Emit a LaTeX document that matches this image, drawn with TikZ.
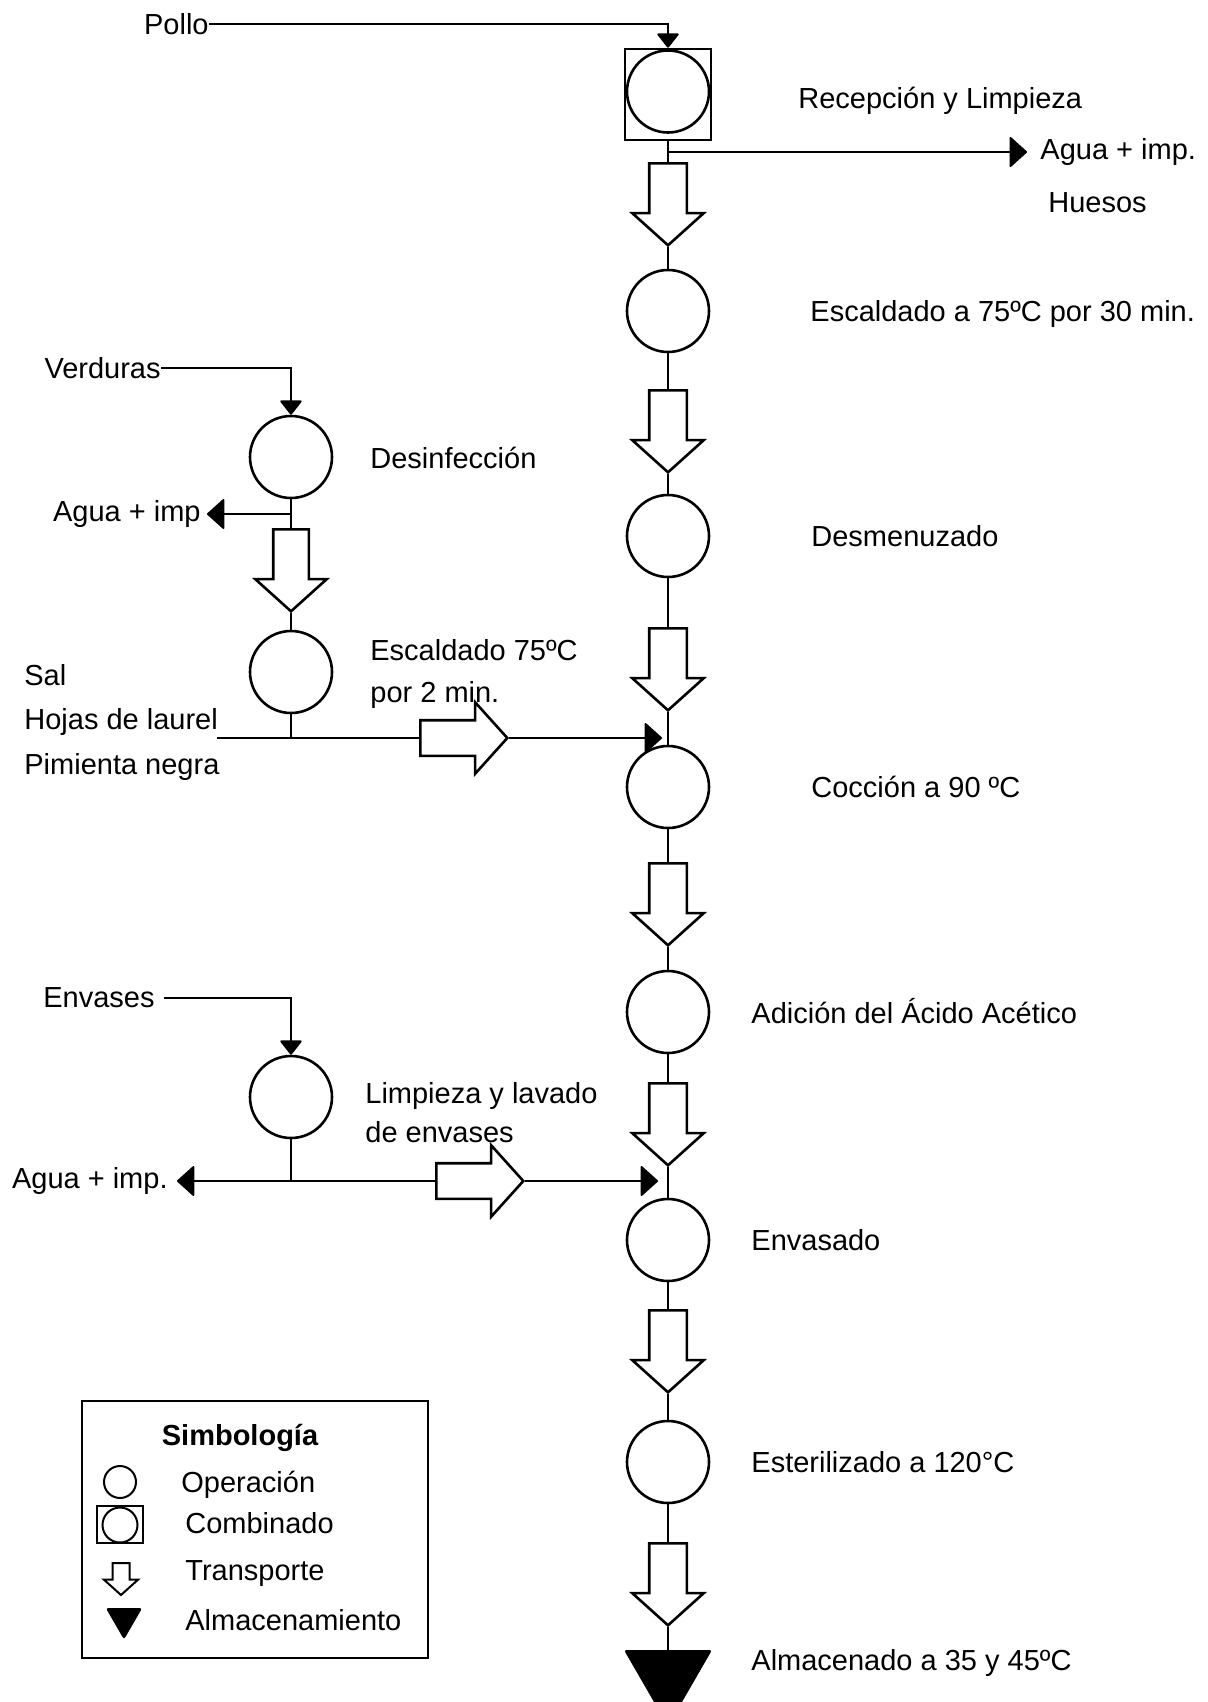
\documentclass[tikz,border=0pt]{standalone}
\usepackage{fontspec}
\setmainfont{Liberation Sans}
\usetikzlibrary{shapes.geometric,shapes.arrows,arrows.meta,positioning}

\begin{document}
\begin{tikzpicture}[%
    x=0.5pt, y=-0.5pt,          % one unit is one pixel of the sheet, y grows downwards
    >={Triangle[width=11.5pt,length=7.5pt,round]}, % filled tips into a step
    font=\fontsize{14.5pt}{17.4pt}\selectfont,
    ]
\tikzset{
  flow/.style={line width=1pt},
  into/.style={flow, ->},
  outh/.style={flow, -{Triangle[width=16pt,length=9pt,round]}},
  oper/.style={draw, circle, line width=1.3pt, minimum size=41pt, inner sep=0pt},
  combo/.style={draw, rectangle, line width=1.3pt, minimum width=43pt, minimum height=45.5pt, inner sep=0pt},
  transp/.style={draw, single arrow, line width=1.3pt, inner sep=8.75pt, anchor=tail,
    minimum width=34.5pt, minimum height=41pt, single arrow head extend=8.5pt,
    single arrow tip angle=96},
  transdown/.style={transp, shape border rotate=270},
  transright/.style={transp, shape border rotate=0, inner sep=8.25pt, minimum height=43.5pt, single arrow head extend=9pt},
  store/.style={draw, fill, regular polygon, regular polygon sides=3, shape border rotate=180,
    inner sep=0pt, minimum size=50pt, rounded corners=1pt, anchor=north},
  lbl/.style={inner sep=0pt},
}
\useasboundingbox (0,0) rectangle (1207,1702);
\clip (0,0) rectangle (1207,1702);

% main line
\node [combo] (recep) at (668,94.5) {};
\node [oper] (recepc) at (668,91.5) {};
\node [transdown] (t1) at (668,162) {};
\node [oper] (escal) at (668,311) {};
\node [transdown] (t2) at (668,389) {};
\node [oper] (desm) at (668,536) {};
\node [transdown] (t3) at (668,627) {};
\node [oper] (cocc) at (668,787) {};
\node [transdown] (t4) at (668,862) {};
\node [oper] (adic) at (668,1012) {};
\node [transdown] (t5) at (668,1082) {};
\node [oper] (envd) at (668,1240) {};
\node [transdown] (t6) at (668,1309) {};
\node [oper] (este) at (668,1462) {};
\node [transdown] (t7) at (668,1542) {};
\node [store] (alm) at (668,1650) {};

\node [lbl, anchor=east] (pollo) at (209,24) {Pollo};
\node [lbl, anchor=base west] (lrecep) at (798,109) {Recepción y Limpieza};
\node [lbl, anchor=west] (aguar) at (1040,152) {Agua + imp.};
\node [lbl, anchor=base west] (huesos) at (1048,212) {Huesos};
\node [lbl, anchor=base west] (lescal) at (810,321) {Escaldado a 75ºC por 30 min.};
\node [lbl, anchor=base west] (ldesm) at (811,546) {Desmenuzado};
\node [lbl, anchor=base west] (lcocc) at (811,797) {Cocción a 90 ºC};
\node [lbl, anchor=base west] (ladic) at (751,1023) {Adición del Ácido Acético};
\node [lbl, anchor=base west] (lenvd) at (751,1250) {Envasado};
\node [lbl, anchor=base west] (leste) at (751,1472) {Esterilizado a 120°C};
\node [lbl, anchor=base west] (lalm) at (751,1670) {Almacenado a 35 y 45ºC};

% vegetables
\node [lbl, anchor=east] (verd) at (161,368) {Verduras};
\node [oper] (desin) at (291,457) {};
\node [lbl, anchor=base west] (ldesin) at (370,468) {Desinfección};
\node [lbl, anchor=east] (aguav) at (201,514) {Agua + imp};
\node [transdown, inner sep=8.25pt, single arrow head extend=9pt] (tv1) at (291,528) {};
\node [oper] (escv) at (291,672) {};
\node [lbl, anchor=north west, align=left, font=\fontsize{14.5pt}{21pt}\selectfont] (lescv) at (370,639)
  {Escaldado 75ºC\\por 2 min.};
\node [lbl, anchor=north west, align=left, font=\fontsize{14.5pt}{22.25pt}\selectfont] (spice) at (24,664)
  {Sal\\Hojas de laurel\\Pimienta negra};
\node [transright] (th1) at (419,738) {};
\coordinate (aguaj) at (668,152);
\coordinate (aguaj2) at (291,514);
\coordinate (salj) at (291,738);
\coordinate (sal0) at (217,738);
\coordinate (coccin) at (662,738);

% containers
\node [lbl, anchor=east, inner xsep=4.5pt] (env) at (164,998) {Envases};
\node [oper] (limp) at (291,1097) {};
\node [lbl, anchor=north west, align=left, font=\fontsize{14.5pt}{19.5pt}\selectfont] (llimp) at (365,1082)
  {Limpieza y lavado\\de envases};
\node [lbl, anchor=east] (aguae) at (168,1181) {Agua + imp.};
\node [transright] (th2) at (435,1181) {};
\coordinate (limpj) at (291,1181);
\coordinate (envin) at (658,1181);

% legend
\node [draw, line width=0.8pt, inner sep=0pt, minimum width=173pt, minimum height=128.5pt] (simb) at (255,1529.5) {};
\node [lbl, anchor=base] (simbt) at (240,1445) {\bfseries Simbología};
\node [oper, minimum size=16pt, line width=1pt] (lop) at (120,1482) {};
\node [lbl, anchor=base west] (lopt) at (181,1492) {Operación};
\node [combo, minimum width=23pt, minimum height=18.5pt, line width=1pt] (lco) at (120,1524.5) {};
\node [oper, minimum size=17.5pt, line width=1pt] (lcoc) at (120,1525) {};
\node [lbl, anchor=base west] (lcot) at (185,1533) {Combinado};
\node [transdown, inner sep=3.75pt, minimum width=16pt, minimum height=16pt, single arrow head extend=4.25pt, line width=1pt] (ltr) at (121,1562) {};
\node [lbl, anchor=base west] (ltrt) at (185,1580) {Transporte};
\node [store, minimum size=20.2pt] (lst) at (124,1608) {};
\node [lbl, anchor=base west] (lstt) at (185,1630) {Almacenamiento};

%connect
\draw [into] (pollo.east) -| (recep.north);
\draw [flow] (recep.south) -- (t1.tail);
\draw [outh, shorten >=6.5pt] (aguaj) -- (aguar.west);
\draw [flow] (t1.tip) -- (escal.north);
\draw [flow] (escal.south) -- (t2.tail);
\draw [flow] (t2.tip) -- (desm.north);
\draw [flow] (desm.south) -- (t3.tail);
\draw [flow] (t3.tip) -- (cocc.north);
\draw [flow] (cocc.south) -- (t4.tail);
\draw [flow] (t4.tip) -- (adic.north);
\draw [flow] (adic.south) -- (t5.tail);
\draw [flow] (t5.tip) -- (envd.north);
\draw [flow] (envd.south) -- (t6.tail);
\draw [flow] (t6.tip) -- (este.north);
\draw [flow] (este.south) -- (t7.tail);
\draw [flow] (t7.tip) -- (alm.north);

\draw [into] (verd.east) -| (desin.north);
\draw [flow] (desin.south) -- (tv1.tail);
\draw [outh, shorten >=3pt] (aguaj2) -- (aguav.east);
\draw [flow] (tv1.tip) -- (escv.north);
\draw [flow] (escv.south) -- (salj);
\draw [flow] (sal0) -- (th1.tail);
\draw [outh] (th1.tip) -- (coccin);

\draw [into] (env.east) -| (limp.north);
\draw [flow] (limp.south) -- (limpj);
\draw [outh, shorten >=4.5pt] (limpj) -- (aguae.east);
\draw [flow] (limpj) -- (th2.tail);
\draw [outh] (th2.tip) -- (envin);

\end{tikzpicture}
\end{document}
